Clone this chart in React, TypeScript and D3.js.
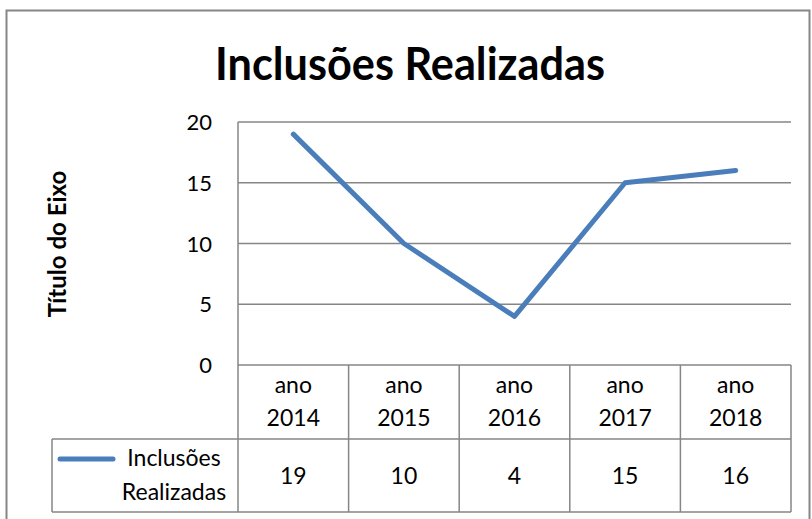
import React, { useEffect, useRef } from 'react';
import * as d3 from 'd3';

const categories = ['ano 2014', 'ano 2015', 'ano 2016', 'ano 2017', 'ano 2018'];
const values = [19, 10, 4, 15, 16];
const yTicks = [0, 5, 10, 15, 20];
const seriesName = 'Inclusões Realizadas';
const chartTitle = 'Inclusões Realizadas';
const axisTitle = 'Título do Eixo';

const App = () => {
    const ref = useRef<SVGSVGElement>(null);

    useEffect(() => {
        const svg = d3.select(ref.current);
        svg.selectAll('*').remove();

        const font = 'Lato, "Open Sans", sans-serif';
        const grey = '#868686';
        const left = 238, right = 791, top = 122, bottom = 365;
        const headerBottom = 439, tableBottom = 512, legendLeft = 52;

        // outer frame
        svg.append('rect')
            .attr('x', 6.5).attr('y', 10.5)
            .attr('width', 803).attr('height', 530)
            .attr('fill', 'white')
            .attr('stroke', grey).attr('stroke-width', 2);

        svg.append('text')
            .attr('x', 410).attr('y', 80)
            .attr('text-anchor', 'middle')
            .attr('font-family', font).attr('font-weight', 'bold')
            .attr('font-size', 46)
            .attr('textLength', 390).attr('lengthAdjust', 'spacingAndGlyphs')
            .text(chartTitle);

        const x = d3.scaleBand().domain(categories).range([left, right]);
        const y = d3.scaleLinear().domain([0, 20]).range([bottom, top]);

        // gridlines
        svg.append('g').selectAll('line')
            .data(yTicks.filter(t => t > 0))
            .enter().append('line')
            .attr('x1', left).attr('x2', right)
            .attr('y1', d => y(d)).attr('y2', d => y(d))
            .attr('stroke', grey).attr('stroke-width', 1.5);

        svg.append('g').selectAll('text')
            .data(yTicks)
            .enter().append('text')
            .attr('x', 212).attr('y', d => y(d) + 8)
            .attr('text-anchor', 'end')
            .attr('font-family', font).attr('font-size', 22)
            .attr('fill', '#000')
            .text(d => d);

        svg.append('text')
            .attr('transform', `translate(66,244) rotate(-90)`)
            .attr('text-anchor', 'middle')
            .attr('font-family', font).attr('font-weight', 'bold')
            .attr('font-size', 24)
            .text(axisTitle);

        // data table
        const table = svg.append('g')
            .attr('stroke', grey).attr('stroke-width', 1.5);
        table.append('line')
            .attr('x1', left).attr('x2', left).attr('y1', top).attr('y2', tableBottom);
        table.append('line')
            .attr('x1', left).attr('x2', right).attr('y1', bottom).attr('y2', bottom);
        table.append('line')
            .attr('x1', legendLeft).attr('x2', right).attr('y1', headerBottom).attr('y2', headerBottom);
        table.append('line')
            .attr('x1', legendLeft).attr('x2', right).attr('y1', tableBottom).attr('y2', tableBottom);
        table.append('line')
            .attr('x1', legendLeft).attr('x2', legendLeft).attr('y1', headerBottom).attr('y2', tableBottom);
        table.selectAll('.col')
            .data(categories)
            .enter().append('line')
            .attr('x1', d => x(d)! + x.bandwidth()).attr('x2', d => x(d)! + x.bandwidth())
            .attr('y1', bottom).attr('y2', tableBottom);

        const header = svg.append('g').selectAll('text')
            .data(categories)
            .enter().append('text')
            .attr('text-anchor', 'middle')
            .attr('font-family', font).attr('font-size', 23);
        header.append('tspan')
            .attr('x', d => x(d)! + x.bandwidth() / 2).attr('y', 393)
            .text(d => d.split(' ')[0]);
        header.append('tspan')
            .attr('x', d => x(d)! + x.bandwidth() / 2).attr('y', 426)
            .text(d => d.split(' ')[1]);

        svg.append('g').selectAll('text')
            .data(values)
            .enter().append('text')
            .attr('x', (d, i) => x(categories[i])! + x.bandwidth() / 2)
            .attr('y', 484)
            .attr('text-anchor', 'middle')
            .attr('font-family', font).attr('font-size', 23)
            .text(d => d);

        // legend in table
        svg.append('line')
            .attr('x1', 60).attr('x2', 113).attr('y1', 459).attr('y2', 459)
            .attr('stroke', '#4a7ebb').attr('stroke-width', 5)
            .attr('stroke-linecap', 'round');
        const leg = svg.append('text')
            .attr('text-anchor', 'middle')
            .attr('font-family', font).attr('font-size', 23);
        leg.append('tspan').attr('x', 174).attr('y', 466).text(seriesName.split(' ')[0]);
        leg.append('tspan').attr('x', 174).attr('y', 500).text(seriesName.split(' ')[1]);

        // series line
        const line = d3.line<number>()
            .x((d, i) => x(categories[i])! + x.bandwidth() / 2)
            .y(d => y(d));
        svg.append('path')
            .datum(values)
            .attr('d', line)
            .attr('fill', 'none')
            .attr('stroke', '#4a7ebb')
            .attr('stroke-width', 5)
            .attr('stroke-linecap', 'round')
            .attr('stroke-linejoin', 'round');
    }, []);

    return (
        <svg ref={ref} width={812} height={519}
            style={{ position: 'absolute', left: 0, top: 0 }} />
    );
};

export default App;
